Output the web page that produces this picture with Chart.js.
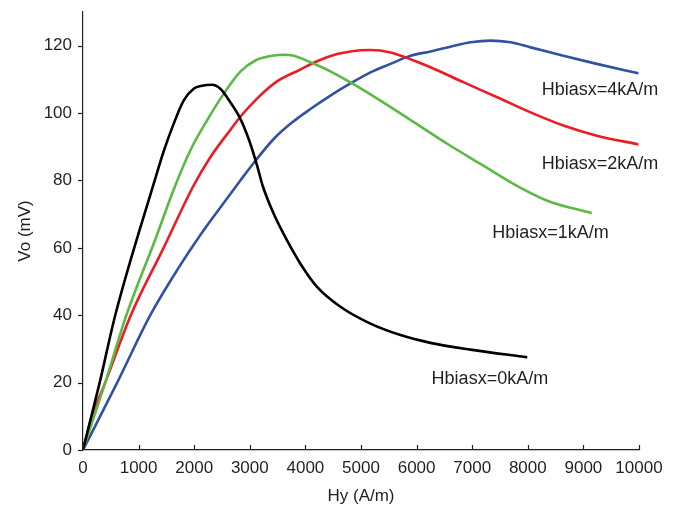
<!DOCTYPE html>
<html>
<head>
<meta charset="utf-8">
<script src="https://cdn.jsdelivr.net/npm/chart.js@4.4.0/dist/chart.umd.min.js"></script>
<style>
  html, body { margin: 0; padding: 0; background: #fff; }
  #wrap { width: 677px; height: 510px; }
</style>
</head>
<body>
<div id="wrap"><canvas id="chart" width="677" height="510"></canvas></div>
<script>
// Hy (A/m) vs Vo (mV) for each bias field
const bias0X = [0, 150, 300, 580, 1290, 1450, 1630, 1810, 1990, 2140, 2320, 2470, 2650, 2830, 2980, 3130, 3230, 3430, 3670, 3910, 4210, 4630, 5170, 5710, 6250, 6970, 7990];
const bias0Y = [0, 10, 20, 40, 80, 88.6, 96.8, 103.7, 107.2, 108.1, 108.4, 107.2, 103.2, 98.3, 92.3, 84.5, 78.5, 70.1, 62.2, 55.3, 48.4, 42.5, 37.5, 34.1, 31.8, 29.8, 27.5];

const bias1X = [0, 200, 400, 780, 1300, 1660, 1930, 2230, 2530, 2830, 3100, 3400, 3610, 3790, 4090, 4450, 4810, 5350, 5950, 6550, 7150, 7740, 8350, 9150];
const bias1Y = [0, 10, 20, 40, 62.5, 78.5, 88.9, 97.8, 105.7, 112.3, 115.6, 117, 117.3, 117, 115.1, 112.4, 109.1, 103.7, 97.3, 90.9, 84.9, 79, 74, 70.3];

const bias2X = [0, 160, 400, 860, 1450, 1990, 2290, 2650, 2830, 3130, 3490, 3880, 4210, 4570, 4810, 5170, 5530, 5890, 6250, 6850, 7450, 8050, 8640, 9240, 9990];
const bias2Y = [0, 10, 20, 40, 60, 78.5, 86.9, 95, 98.9, 104.3, 109.4, 112.7, 115.4, 117.5, 118.3, 118.7, 118, 116, 113.6, 109.1, 104.7, 100.2, 96.3, 93.3, 90.7];

const bias4X = [0, 615, 1210, 1690, 2170, 2470, 2830, 3070, 3430, 3730, 4090, 4450, 4810, 5170, 5530, 5890, 6250, 6610, 6970, 7330, 7690, 8050, 8640, 9240, 9990];
const bias4Y = [0, 20, 40, 53.3, 65.2, 72, 80, 85.2, 92.3, 96.8, 101.2, 105.2, 108.8, 112.1, 114.6, 117, 118.3, 119.7, 121, 121.5, 121, 119.5, 117, 114.6, 111.8];

const curveNames = ['Hbiasx=0kA/m', 'Hbiasx=1kA/m', 'Hbiasx=2kA/m', 'Hbiasx=4kA/m'];
// where each curve's label sits, in data units (left edge, text middle)
const labelX = [6270, 7360, 8250, 8250];
const labelY = [21, 64.5, 85, 106.9];

const xTicks = [0, 1000, 2000, 3000, 4000, 5000, 6000, 7000, 8000, 9000, 10000];
const yTicks = [0, 20, 40, 60, 80, 100, 120];

const textColor = '#231f20';
const fontFamily = '"Liberation Sans", Arial, sans-serif';

function toPoints(xs, ys) {
    return xs.map((x, i) => ({ x: x, y: ys[i] }));
}

function curve(label, xs, ys, color) {
    return {
        label: label,
        data: toPoints(xs, ys),
        borderColor: color,
        borderWidth: 2.6,
        pointRadius: 0,
        fill: false,
        cubicInterpolationMode: 'monotone'
    };
}

// curve labels + tick marks (x inward, y outward)
const extras = {
    id: 'extras',
    afterDraw(chart) {
        const ctx = chart.ctx;
        const xs = chart.scales.x;
        const ys = chart.scales.y;
        ctx.save();
        ctx.strokeStyle = textColor;
        ctx.lineWidth = 1.2;
        xTicks.forEach(t => {
            const px = Math.round(xs.getPixelForValue(t)) + 0.5;
            ctx.beginPath();
            ctx.moveTo(px, ys.bottom);
            ctx.lineTo(px, ys.bottom - 5);
            ctx.stroke();
        });
        yTicks.forEach(t => {
            const py = Math.round(ys.getPixelForValue(t)) + 0.5;
            ctx.beginPath();
            ctx.moveTo(xs.left, py);
            ctx.lineTo(xs.left - 5, py);
            ctx.stroke();
        });
        ctx.fillStyle = textColor;
        ctx.font = '18px ' + fontFamily;
        ctx.textBaseline = 'middle';
        ctx.textAlign = 'left';
        curveNames.forEach((name, i) => {
            ctx.fillText(name, xs.getPixelForValue(labelX[i]), ys.getPixelForValue(labelY[i]));
        });
        ctx.restore();
    }
};

document.addEventListener('DOMContentLoaded', () => {
    const ctx = document.getElementById('chart').getContext('2d');
    new Chart(ctx, {
        type: 'line',
        data: {
            datasets: [
                curve(curveNames[0], bias0X, bias0Y, '#000000'),
                curve(curveNames[1], bias1X, bias1Y, '#5bb946'),
                curve(curveNames[2], bias2X, bias2Y, '#ed1c24'),
                curve(curveNames[3], bias4X, bias4Y, '#3152a2')
            ]
        },
        options: {
            responsive: false,
            animation: false,
            layout: { padding: { top: 12, right: 38, left: 0, bottom: 0 } },
            plugins: { legend: { display: false }, tooltip: { enabled: false } },
            scales: {
                x: {
                    type: 'linear',
                    min: 0,
                    max: 10000,
                    afterFit: s => { s.height = 60; },
                    afterBuildTicks: s => { s.ticks = xTicks.map(v => ({ value: v })); },
                    grid: { display: false, drawTicks: false },
                    border: { display: true, color: textColor, width: 1.2 },
                    ticks: {
                        color: textColor,
                        padding: 8,
                        maxRotation: 0,
                        autoSkip: false,
                        font: { family: fontFamily, size: 17 },
                        callback: v => String(v)
                    },
                    title: {
                        display: true,
                        text: 'Hy (A/m)',
                        color: textColor,
                        font: { family: fontFamily, size: 17 },
                        padding: { top: 0, bottom: 3 }
                    }
                },
                y: {
                    type: 'linear',
                    min: 0,
                    max: 130,
                    afterFit: s => { s.width = 83; },
                    afterBuildTicks: s => { s.ticks = yTicks.map(v => ({ value: v })); },
                    grid: { drawOnChartArea: false, tickLength: 11, color: 'rgba(0,0,0,0)' },
                    border: { display: true, color: textColor, width: 1.2 },
                    ticks: {
                        color: textColor,
                        padding: 0,
                        font: { family: fontFamily, size: 17 }
                    },
                    title: {
                        display: true,
                        text: 'Vo (mV)',
                        color: textColor,
                        font: { family: fontFamily, size: 17 },
                        padding: { top: 15, bottom: 0 }
                    }
                }
            }
        },
        plugins: [extras]
    });
});
</script>
</body>
</html>
